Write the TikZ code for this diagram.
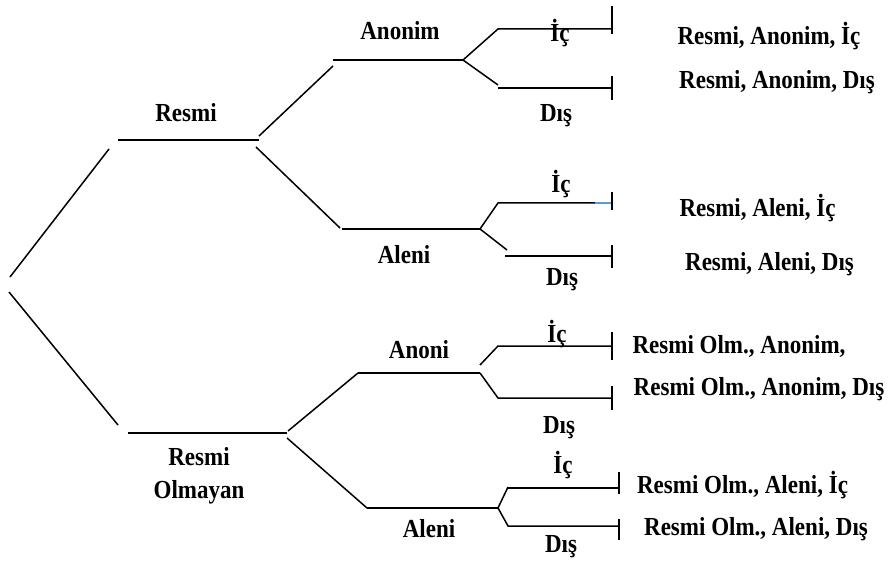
\documentclass[tikz,border=0pt]{standalone}
\usepackage{fontspec}
\setmainfont{Liberation Serif}
\newfontfamily\lblfont{Liberation Serif}[FakeStretch=0.885]
\definecolor{lblue}{HTML}{5B9BD5}
\begin{document}
\begin{tikzpicture}[x=1pt,y=-1pt,
  lbl/.style={anchor=base, font=\lblfont\fontsize{26}{30}\selectfont\bfseries, inner sep=0pt},
  br/.style={line width=1.5pt, black, line cap=butt},
  bar/.style={line width=1.5pt, black}]
\useasboundingbox[fill=white] (0,0) rectangle (893,561);

% ---------- coordinates ----------
% root
\coordinate (r1) at (10,277);   \coordinate (r1e) at (109,149);
\coordinate (r2) at (9,292);    \coordinate (r2e) at (118,425);
% Resmi
\coordinate (rsA) at (118,140); \coordinate (rsB) at (259,140);
\coordinate (rsU) at (259,136); \coordinate (anA0) at (333,66);
\coordinate (rsD) at (256,147); \coordinate (alA0) at (340,228);
% Resmi - Anonim
\coordinate (anA) at (333,60);  \coordinate (anB) at (463,60);
\coordinate (an1a) at (498,29); \coordinate (an1b) at (612,29);
\coordinate (an1t) at (612,6);  \coordinate (an1u) at (612,34);
\coordinate (an2d) at (498,85);
\coordinate (an2a) at (498,88); \coordinate (an2b) at (612,88);
\coordinate (an2t) at (612,76); \coordinate (an2u) at (612,100);
% Resmi - Aleni
\coordinate (alA) at (342,229); \coordinate (alB) at (480,229);
\coordinate (al1a) at (498,203); \coordinate (al1b) at (612,203);
\coordinate (al1c) at (595,203);
\coordinate (al1t) at (612,192); \coordinate (al1u) at (612,210);
\coordinate (al2d) at (507,250);
\coordinate (al2a) at (505,256); \coordinate (al2b) at (612,256);
\coordinate (al2t) at (612,245); \coordinate (al2u) at (612,268);
% Resmi Olmayan
\coordinate (roA) at (128,433); \coordinate (roB) at (287,433);
\coordinate (roU) at (288,431); \coordinate (onA) at (358,373);
\coordinate (roD) at (287,438); \coordinate (olA) at (367,508);
% Resmi Olmayan - Anoni
\coordinate (onB) at (480,373);
\coordinate (on1s) at (480,365);
\coordinate (on1a) at (498,346); \coordinate (on1b) at (612,346);
\coordinate (on1t) at (612,332); \coordinate (on1u) at (612,360);
\coordinate (on2a) at (498,398); \coordinate (on2b) at (612,398);
\coordinate (on2t) at (612,386); \coordinate (on2u) at (612,410);
% Resmi Olmayan - Aleni
\coordinate (olB) at (498,508);
\coordinate (ol1d) at (508,487);
\coordinate (ol1a) at (508,488); \coordinate (ol1b) at (619,488);
\coordinate (ol1t) at (619,472); \coordinate (ol1u) at (619,494);
\coordinate (ol2a) at (508,526); \coordinate (ol2b) at (619,526);
\coordinate (ol2t) at (619,519); \coordinate (ol2u) at (619,540);

% ---------- branches ----------
\draw[br] (r1) -- (r1e);
\draw[br] (r2) -- (r2e);
\draw[br] (rsA) -- (rsB);
\draw[br] (rsU) -- (anA0);
\draw[br] (rsD) -- (alA0);

\draw[br] (anA) -- (anB);
\draw[br] (anB) -- (an1a) -- (an1b);
\draw[bar] (an1t) -- (an1u);
\draw[br] (anB) -- (an2d);
\draw[br] (an2a) -- (an2b);
\draw[bar] (an2t) -- (an2u);

\draw[br] (alA) -- (alB);
\draw[br] (alB) -- (al1a) -- (al1b);
\draw[br, lblue] (al1c) -- (al1b);
\draw[bar] (al1t) -- (al1u);
\draw[br] (alB) -- (al2d);
\draw[br] (al2a) -- (al2b);
\draw[bar] (al2t) -- (al2u);

\draw[br] (roA) -- (roB);
\draw[br] (roU) -- (onA);
\draw[br] (roD) -- (olA);

\draw[br] (onA) -- (onB);
\draw[br] (on1s) -- (on1a) -- (on1b);
\draw[bar] (on1t) -- (on1u);
\draw[br] (onB) -- (on2a) -- (on2b);
\draw[bar] (on2t) -- (on2u);

\draw[br] (olA) -- (olB);
\draw[br] (olB) -- (ol1d);
\draw[br] (ol1a) -- (ol1b);
\draw[bar] (ol1t) -- (ol1u);
\draw[br] (olB) -- (ol2a) -- (ol2b);
\draw[bar] (ol2t) -- (ol2u);

% ---------- labels ----------
\node[lbl] (tResmi) at (186,122) {Resmi};
\node[lbl] (tAnonim) at (400,40) {Anonim};
\node[lbl] (tAleni) at (404,263) {Aleni};
\node[lbl] (tIc1) at (560,42) {İç};
\node[lbl] (tDis1) at (556,122) {Dış};
\node[lbl] (tIc2) at (561,193) {İç};
\node[lbl] (tDis2) at (562,285) {Dış};

\node[lbl] (tRO1) at (199,465) {Resmi};
\node[lbl] (tRO2) at (199,498) {Olmayan};
\node[lbl] (tAnoni) at (419,358) {Anoni};
\node[lbl] (tAleni2) at (429,537) {Aleni};
\node[lbl] (tIc3) at (557,342) {İç};
\node[lbl] (tDis3) at (559,433) {Dış};
\node[lbl] (tIc4) at (563,473) {İç};
\node[lbl] (tDis4) at (561,552) {Dış};

\node[lbl] (e1) at (769,45) {Resmi, Anonim, İç};
\node[lbl] (e2) at (777,89) {Resmi, Anonim, Dış};
\node[lbl] (e3) at (757.5,217) {Resmi, Aleni, İç};
\node[lbl] (e4) at (769.5,270) {Resmi, Aleni, Dış};
\node[lbl] (e5) at (739,353) {Resmi Olm., Anonim,};
\node[lbl] (e6) at (759,395) {Resmi Olm., Anonim, Dış};
\node[lbl] (e7) at (742.5,493) {Resmi Olm., Aleni, İç};
\node[lbl] (e8) at (756,535) {Resmi Olm., Aleni, Dış};
\end{tikzpicture}
\end{document}
